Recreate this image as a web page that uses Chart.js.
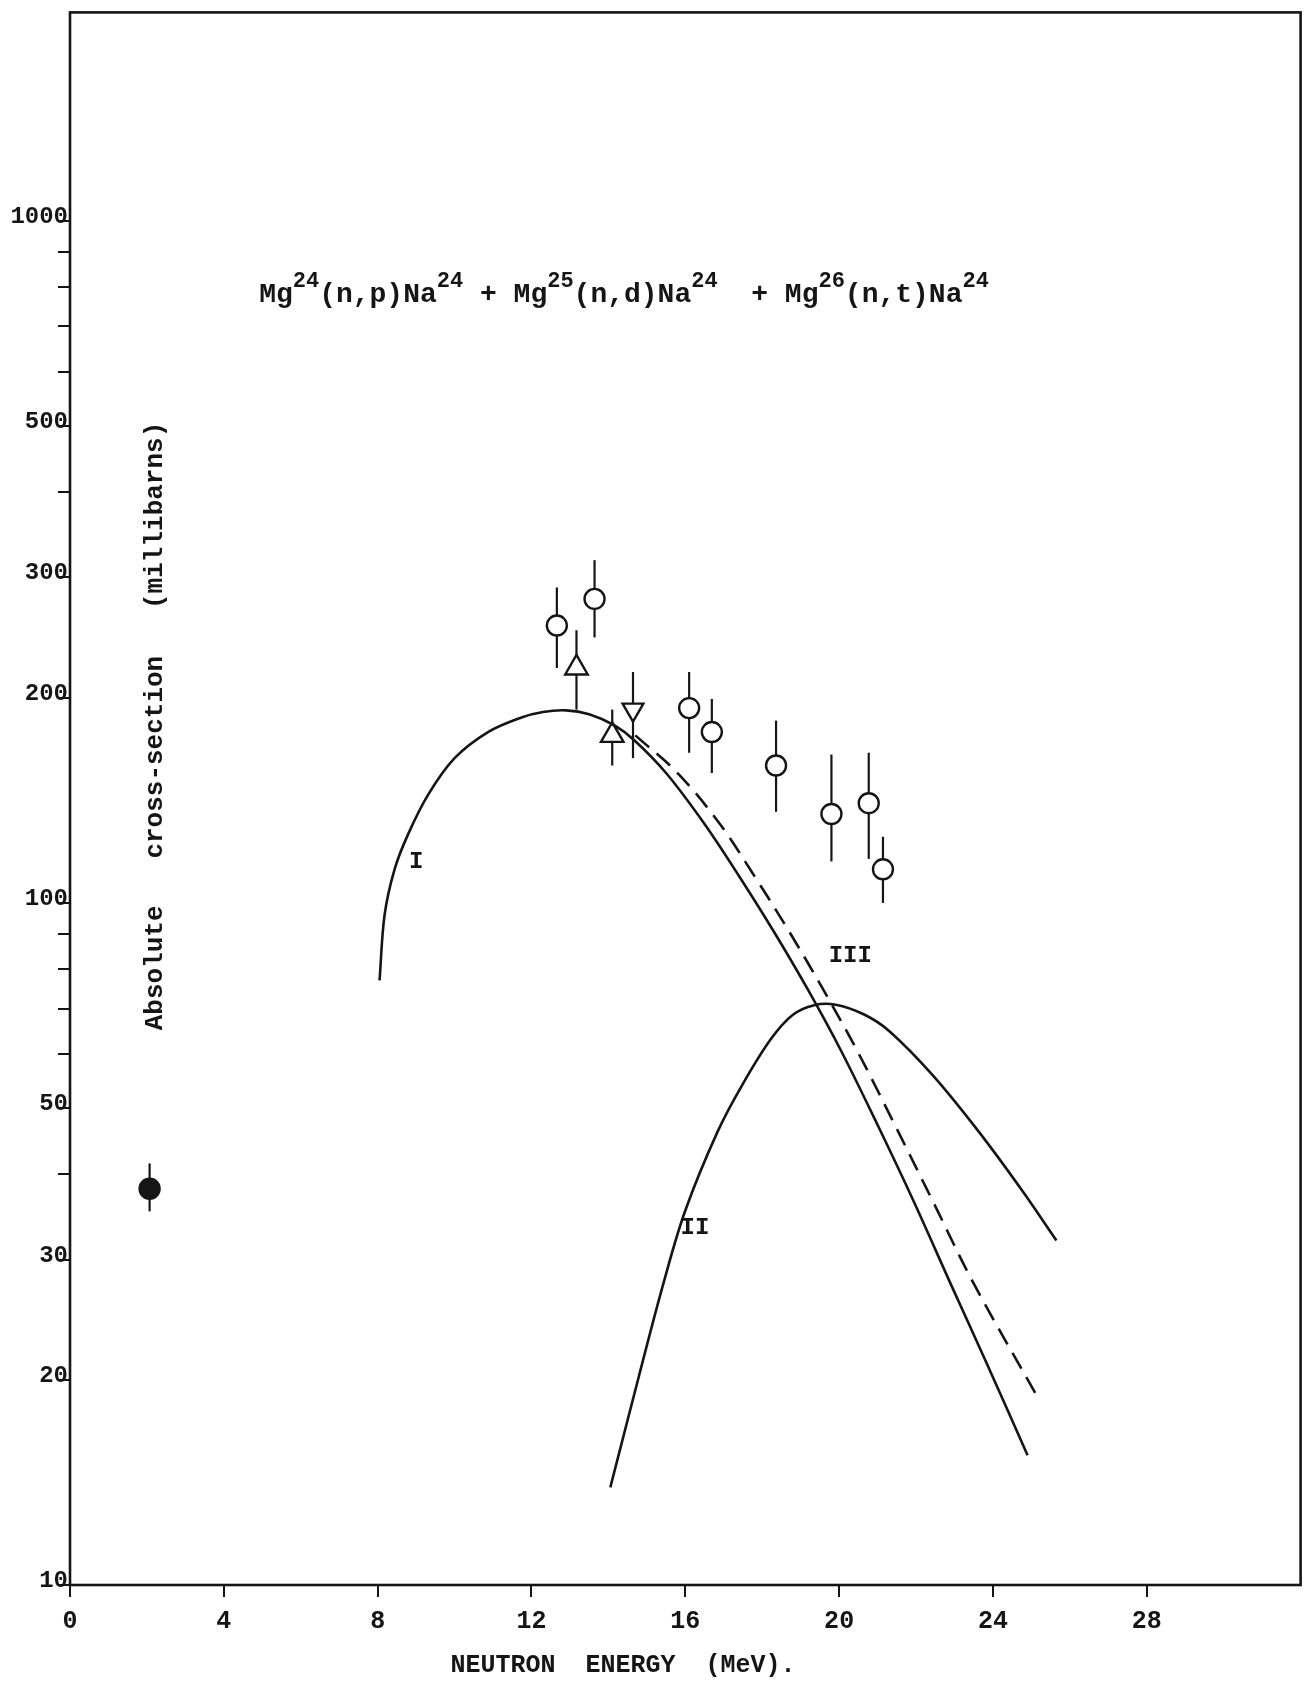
<!DOCTYPE html>
<html>
<head>
<meta charset="utf-8">
<script src="https://cdn.jsdelivr.net/npm/chart.js@4.4.1/dist/chart.umd.min.js"></script>
<style>
  html, body { margin: 0; padding: 0; background: #fff; }
  #wrap { width: 1316px; height: 1683px; position: relative; }
</style>
</head>
<body>
<div id="wrap"><canvas id="chart"></canvas></div>
<script>
'use strict';

const FONT = '"Liberation Mono", "DejaVu Sans Mono", monospace';
const INK = '#151515';

// ── axes ─────────────────────────────────────────
const xTicks  = [0, 4, 8, 12, 16, 20, 24, 28];
const yTicks  = [10, 20, 30, 40, 50, 60, 70, 80, 90, 100, 200, 300, 400, 500, 600, 700, 800, 900, 1000];
const yLabels = [10, 20, 30, 50, 100, 200, 300, 500, 1000];

// ── curve I (solid) ──────────────────────────────
const curveIE = [8.05, 8.18, 8.44, 8.79, 9.31, 10.0, 10.87, 11.74, 12.3, 12.9, 13.5, 14.16, 14.68, 15.5, 16.5, 17.4, 18.32, 19.2, 20.07, 21.02, 21.95, 22.88, 23.81, 24.9];
const curveIS = [77, 96, 112, 126, 144, 163, 178, 187, 190.5, 191.5, 189, 182, 173, 155, 130.5, 109.4, 90.4, 74.4, 60.4, 47, 36.4, 27.8, 21.3, 15.5];

// ── curve III (dashed) ───────────────────────────
const curveIIIE = [14.7, 15.8, 16.9, 17.8, 18.72, 19.6, 20.49, 21.47, 22.45, 23.48, 25.15];
const curveIIIS = [176, 155, 130.5, 109.4, 90.4, 74.4, 60.4, 47, 36.4, 27.8, 18.9];

// ── curve II (solid) ─────────────────────────────
const curveIIE = [14.05, 14.79, 15.44, 16.0, 16.84, 17.49, 18.23, 18.79, 19.35, 19.91, 20.65, 21.3, 22.42, 23.63, 24.74, 25.65];
const curveIIS = [13.9, 20.2, 27.8, 35.4, 46.2, 54.2, 63.2, 68.5, 70.8, 70.9, 68.6, 64.9, 56, 46.2, 38, 32];

// ── measurements ─────────────────────────────────
const circleE  = [12.66, 13.64, 16.10, 16.69, 18.36, 19.80, 20.77, 21.14];
const circleS  = [255, 279, 193, 178, 159, 135, 140, 112];
const circleHi = [290, 318, 218, 199, 185, 165, 166, 125];
const circleLo = [221, 245, 166, 155, 136, 115, 116, 100];

const triUpE  = [13.17, 14.10];
const triUpS  = [221, 176];
const triUpHi = [251, 192];
const triUpLo = [192, 159];

const triDownE  = [14.64];
const triDownS  = [192];
const triDownHi = [218];
const triDownLo = [163];

const dotE  = [2.07];
const dotS  = [38.1];
const dotHi = [41.5];
const dotLo = [35.3];

// curve labels, in data units
const curveTags = [['I', 9.0, 115], ['II', 16.25, 33.4], ['III', 20.29, 83.5]];

const pts = (xs, ys) => xs.map((x, i) => ({ x, y: ys[i] }));

const errBars = [
  [circleE, circleLo, circleHi],
  [triUpE, triUpLo, triUpHi],
  [triDownE, triDownLo, triDownHi],
  [dotE, dotLo, dotHi],
];

function drawTitle(ctx, cx, base) {
  const parts = [
    ['Mg', 0], ['24', 1], ['(n,p)Na', 0], ['24', 1], [' + ', 0],
    ['Mg', 0], ['25', 1], ['(n,d)Na', 0], ['24', 1], ['  + ', 0],
    ['Mg', 0], ['26', 1], ['(n,t)Na', 0], ['24', 1],
  ];
  const big = 'bold 28px ' + FONT, small = 'bold 22px ' + FONT;
  let w = 0;
  parts.forEach(([t, s]) => { ctx.font = s ? small : big; w += ctx.measureText(t).width; });
  let x = cx - w / 2;
  ctx.textAlign = 'left';
  ctx.textBaseline = 'alphabetic';
  parts.forEach(([t, s]) => {
    ctx.font = s ? small : big;
    ctx.fillText(t, x, s ? base - 15 : base);
    x += ctx.measureText(t).width;
  });
}

const decor = {
  id: 'decor',
  beforeDatasetsDraw(chart) {
    const { ctx, chartArea: a } = chart;
    const xs = chart.scales.x, ys = chart.scales.y;
    ctx.save();
    ctx.strokeStyle = INK;
    ctx.lineWidth = 2.6;
    ctx.strokeRect(a.left, a.top - 3, a.right - a.left, a.bottom - a.top + 3);
    ctx.lineWidth = 2.2;
    errBars.forEach(([es, lo, hi]) => es.forEach((e, i) => {
      const px = xs.getPixelForValue(e);
      ctx.beginPath();
      ctx.moveTo(px, ys.getPixelForValue(lo[i]));
      ctx.lineTo(px, ys.getPixelForValue(hi[i]));
      ctx.stroke();
    }));
    ctx.restore();
  },
  afterDraw(chart) {
    const { ctx } = chart;
    const xs = chart.scales.x, ys = chart.scales.y;
    ctx.save();
    ctx.fillStyle = INK;
    drawTitle(ctx, 624, 302);

    ctx.font = 'bold 25px ' + FONT;
    ctx.textAlign = 'center';
    ctx.textBaseline = 'middle';
    ctx.fillText('NEUTRON  ENERGY  (MeV).', 623, 1666);

    ctx.save();
    ctx.translate(155, 726);
    ctx.rotate(-Math.PI / 2);
    ctx.font = 'bold 26px ' + FONT;
    ctx.fillText('Absolute   cross-section   (millibarns)', 0, 0);
    ctx.restore();

    ctx.font = 'bold 24px ' + FONT;
    curveTags.forEach(([t, e, s]) => ctx.fillText(t, xs.getPixelForValue(e), ys.getPixelForValue(s)));
    ctx.restore();
  }
};

const lineDs = (label, xs, ys, dash) => ({
  label, data: pts(xs, ys), showLine: true, pointRadius: 0,
  borderColor: INK, borderWidth: 2.6, borderDash: dash || [],
  tension: 0.35, fill: false,
});

const markDs = (label, xs, ys, style, r, fillCol, rot) => ({
  label, data: pts(xs, ys), showLine: false, pointStyle: style,
  pointRadius: r, pointRotation: rot || 0, pointBorderWidth: 2.4,
  pointBorderColor: INK, pointBackgroundColor: fillCol,
});

new Chart(document.getElementById('chart'), {
  type: 'scatter',
  data: {
    datasets: [
      lineDs('I', curveIE, curveIS),
      lineDs('III', curveIIIE, curveIIIS, [18, 10]),
      lineDs('II', curveIIE, curveIIS),
      markDs('circles', circleE, circleS, 'circle', 10, '#fff'),
      markDs('up', triUpE, triUpS, 'triangle', 13, '#fff'),
      markDs('down', triDownE, triDownS, 'triangle', 12, '#fff', 180),
      markDs('dot', dotE, dotS, 'circle', 10, INK),
    ]
  },
  options: {
    responsive: true, maintainAspectRatio: false, animation: false,
    layout: { padding: { top: 12, right: 14, left: 0, bottom: 0 } },
    plugins: { legend: { display: false }, tooltip: { enabled: false } },
    scales: {
      x: {
        type: 'linear', min: 0, max: 32,
        afterBuildTicks: s => { s.ticks = xTicks.map(v => ({ value: v })); },
        afterFit: s => { s.height = 98; },
        ticks: { color: INK, font: { family: FONT, size: 25, weight: 'bold' }, padding: 10, maxRotation: 0 },
        grid: { drawOnChartArea: false, drawTicks: true, tickLength: 12, color: INK, lineWidth: 2 },
        border: { display: false },
      },
      y: {
        type: 'logarithmic', min: 10, max: 2000,
        afterBuildTicks: s => { s.ticks = yTicks.map(v => ({ value: v })); },
        afterFit: s => { s.width = 70; },
        ticks: {
          color: INK, font: { family: FONT, size: 24, weight: 'bold' },
          padding: -10, labelOffset: -4, autoSkip: false,
          callback: v => yLabels.includes(v) ? String(v) : '',
        },
        grid: { drawOnChartArea: false, drawTicks: true, tickLength: 12, color: INK, lineWidth: 2 },
        border: { display: false },
      }
    }
  },
  plugins: [decor]
});
</script>
</body>
</html>
